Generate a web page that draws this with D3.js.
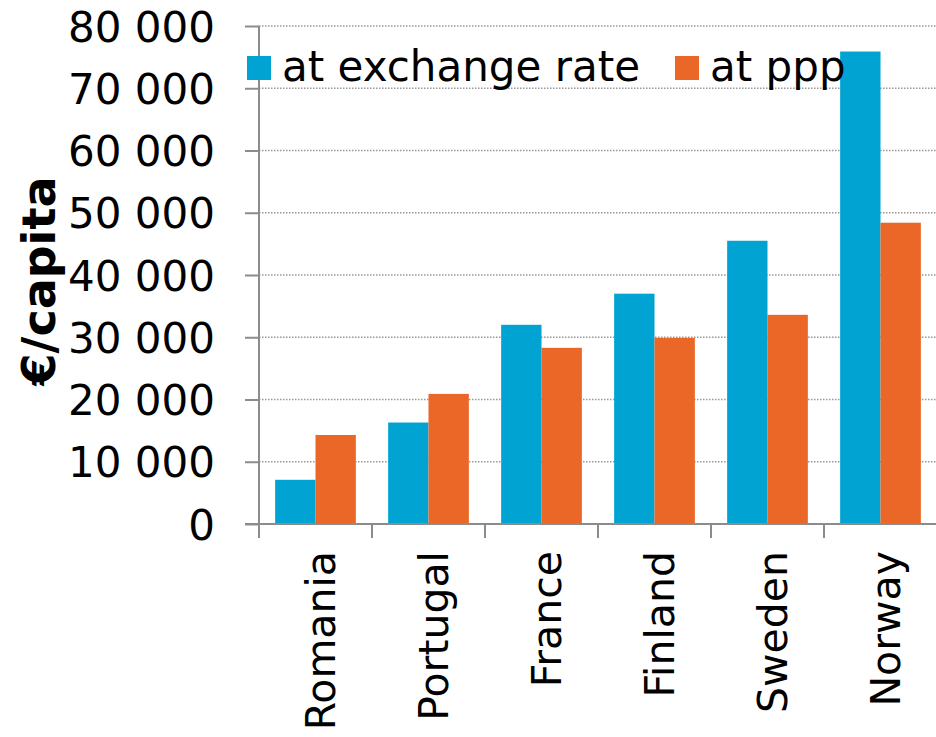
<!DOCTYPE html>
<html>
<head>
<meta charset="utf-8">
<script src="https://cdn.jsdelivr.net/npm/d3@7"></script>
<style>
  body { margin: 0; background: #fff; }
  text { font-family: "DejaVu Sans", Verdana, sans-serif; }
</style>
</head>
<body>
<svg></svg>
<script>
const countries = ['Romania', 'Portugal', 'France', 'Finland', 'Sweden', 'Norway'];
const exchangeRate = [7100, 16300, 32000, 37000, 45500, 75900];
const ppp = [14300, 20900, 28300, 29900, 33600, 48400];
const seriesNames = ['at exchange rate', 'at ppp'];
const yTicks = [0, 10000, 20000, 30000, 40000, 50000, 60000, 70000, 80000];

const width = 936, height = 737;
const margin = { top: 26, right: 0, bottom: 213, left: 259 };
const colors = ['#00a3d1', '#eb6727'];
const fs = 42;

const svg = d3.select('svg').attr('width', width).attr('height', height);

const x = d3.scaleBand().domain(countries).range([margin.left, width + 1]).paddingInner(0).paddingOuter(0);
const x1 = d3.scaleBand().domain(seriesNames).range([0, x.bandwidth()]).paddingInner(0).paddingOuter(0.4);
const y = d3.scaleLinear().domain([0, 80000]).range([height - margin.bottom, margin.top]);

const fmt = v => d3.format(',')(v).replace(/,/g, ' ');

// gridlines
svg.append('g').selectAll('line').data(yTicks.slice(1)).enter().append('line')
  .attr('x1', margin.left).attr('x2', width)
  .attr('y1', d => y(d)).attr('y2', d => y(d))
  .attr('stroke', '#999').attr('stroke-width', 1.5).attr('stroke-dasharray', '1.5,1.5');

// bars
const rows = countries.map((c, i) => ({ c, vals: [exchangeRate[i], ppp[i]] }));
const groups = svg.append('g').selectAll('g').data(rows).enter().append('g')
  .attr('transform', d => `translate(${x(d.c)},0)`);
groups.selectAll('rect').data(d => d.vals.map((v, j) => ({ v, s: seriesNames[j], j }))).enter().append('rect')
  .attr('x', d => x1(d.s)).attr('width', x1.bandwidth())
  .attr('y', d => y(d.v)).attr('height', d => y(0) - y(d.v))
  .attr('fill', d => colors[d.j]);

// y axis
const yAxis = svg.append('g').attr('transform', `translate(${margin.left},0)`)
  .call(d3.axisLeft(y).tickValues(yTicks).tickFormat(fmt).tickSize(14).tickPadding(30));
yAxis.select('.domain').attr('stroke', '#8c8c8c').attr('stroke-width', 2).attr('d', `M0,${y(80000)}V${y(0)}`);
yAxis.selectAll('.tick line').attr('stroke', '#8c8c8c').attr('stroke-width', 2);
yAxis.selectAll('.tick text').attr('font-size', fs).attr('fill', '#000').attr('dy', '0.36em');

// x axis
const xAxis = svg.append('g').attr('transform', `translate(0,${y(0)})`)
  .call(d3.axisBottom(x).tickSize(0).tickPadding(0));
xAxis.select('.domain').attr('stroke', '#8c8c8c').attr('stroke-width', 2).attr('d', `M${margin.left - 14},0H${width}`);
xAxis.selectAll('.tick text').attr('font-size', 41).attr('fill', '#000')
  .attr('text-anchor', 'end').attr('transform', 'translate(2,27) rotate(-90)')
  .attr('dy', '0.42em').attr('x', 0).attr('y', 0);
// boundary ticks between categories
svg.append('g').selectAll('line').data(countries).enter().append('line')
  .attr('x1', d => x(d)).attr('x2', d => x(d))
  .attr('y1', y(0)).attr('y2', y(0) + 14)
  .attr('stroke', '#8c8c8c').attr('stroke-width', 2);

// y label
svg.append('text').attr('transform', `translate(55,281) rotate(-90)`)
  .attr('text-anchor', 'middle').attr('font-size', 46).attr('font-weight', 'bold').text('€/capita');

// legend
const legendX = [247, 675];
const legend = svg.append('g').selectAll('g').data(seriesNames).enter().append('g')
  .attr('transform', (d, i) => `translate(${legendX[i]},56)`);
legend.append('rect').attr('width', 24).attr('height', 24).attr('fill', (d, i) => colors[i]);
legend.append('text').attr('x', 35).attr('y', 25).attr('font-size', fs).text(d => d);
</script>
</body>
</html>
